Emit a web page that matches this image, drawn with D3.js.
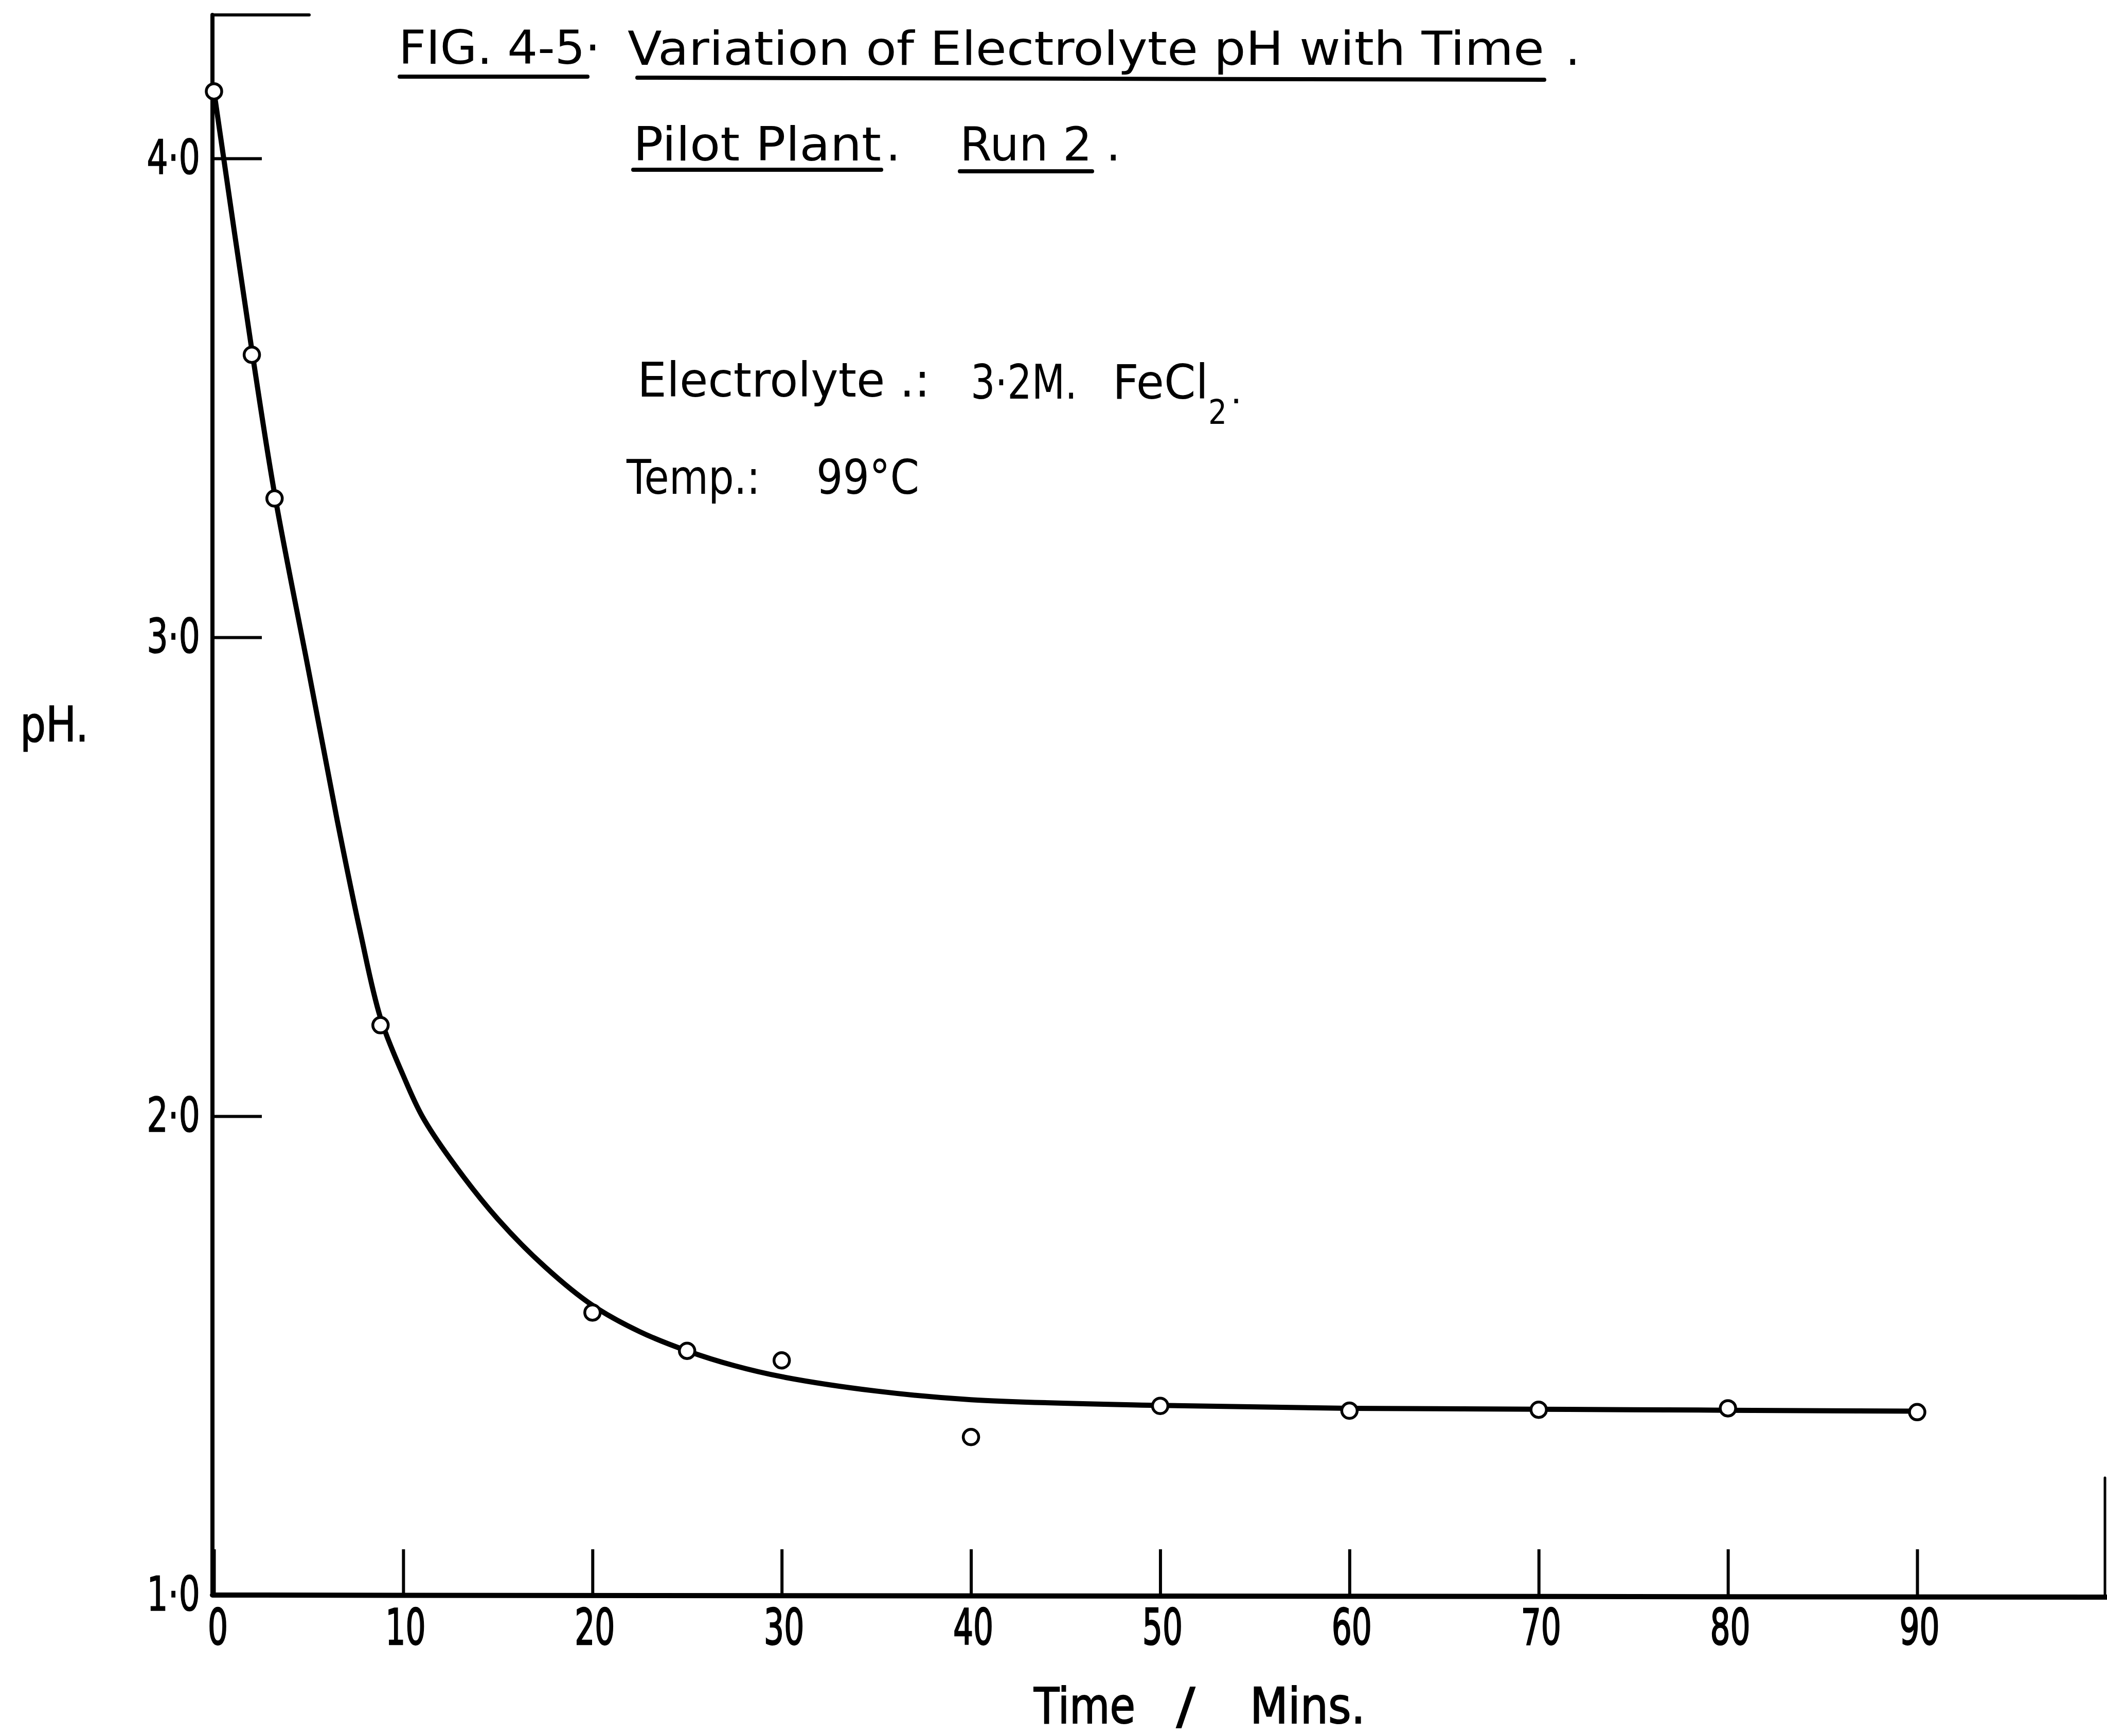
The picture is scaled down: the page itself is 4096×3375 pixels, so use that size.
<!DOCTYPE html>
<meta charset="utf-8">
<style>
body { margin: 0; background: #fff; }
svg { display: block; background: #fff; }
text { font-family: "DejaVu Sans", sans-serif; fill: #000; }
</style>
<body>
<script src="https://d3js.org/d3.v7.min.js"></script>
<script>

// measured points (time in mins, pH)
var times = [0, 2, 3.2, 8.8, 20, 25, 30, 40, 50, 60, 70, 80, 90];
var phValues = [4.14, 3.59, 3.29, 2.19, 1.59, 1.51, 1.49, 1.33, 1.395, 1.385, 1.387, 1.39, 1.382];

// hand-drawn smooth curve
var fitTimes = [0, 2, 3.2, 5, 6.5, 7.7, 8.8, 10, 11, 12.5, 15, 17.5, 20, 22.5, 25, 27.5, 30, 35, 40, 50, 60, 70, 80, 90];
var fitPh = [4.14, 3.60, 3.30, 2.93, 2.62, 2.39, 2.205, 2.085, 2.0, 1.91, 1.785, 1.685, 1.605, 1.55, 1.51, 1.479, 1.456, 1.426, 1.408, 1.396, 1.39, 1.388, 1.386, 1.384];

var xTicks = [0, 10, 20, 30, 40, 50, 60, 70, 80, 90];
var yTicks = [1, 2, 3, 4];
var yTickLabels = ["1·0", "2·0", "3·0", "4·0"];

var width = 4096, height = 3375;

var svg = d3.select("body").append("svg")
    .attr("width", width)
    .attr("height", height);

var x = d3.scaleLinear().domain([0, 90]).range([416, 3727]);
var y = d3.scaleLinear().domain([1, 4]).range([3101, 308]);

var axisX = 413, axisY = y(1);

function label(txt, px, py, size, len, anchor) {
  var t = svg.append("text")
      .attr("x", px)
      .attr("y", py)
      .attr("font-size", size)
      .text(txt);
  if (len) t.attr("textLength", len).attr("lengthAdjust", "spacingAndGlyphs");
  if (anchor) t.attr("text-anchor", anchor);
  return t;
}

function rule(x1, y1, x2, y2, w) {
  svg.append("line")
      .attr("x1", x1).attr("y1", y1)
      .attr("x2", x2).attr("y2", y2)
      .attr("stroke", "#000")
      .attr("stroke-width", w)
      .attr("stroke-linecap", "round");
}

// axes (lettering is narrow, so squeeze the tick labels horizontally)
var sx = 0.64, sy = 0.71;

var gx = svg.append("g")
    .attr("transform", "translate(0," + axisY + ")")
    .call(d3.axisBottom(x).tickValues(xTicks).tickSizeInner(-89).tickSizeOuter(0).tickPadding(28));
gx.select(".domain").remove();
gx.selectAll(".tick line").attr("stroke-width", 6);
gx.selectAll(".tick text")
    .attr("font-family", "DejaVu Sans")
    .attr("font-size", 96)
    .attr("fill", "#000")
    .attr("stroke", "#000")
    .attr("stroke-width", 2.5)
    .attr("x", function(d) { return (d === 0 ? 7 : 4) / sx; })
    .attr("transform", "scale(" + sx + ",1)");

var gy = svg.append("g")
    .attr("transform", "translate(" + axisX + ",0)")
    .call(d3.axisLeft(y).tickValues(yTicks).tickSizeInner(-96).tickSizeOuter(0).tickPadding(22)
      .tickFormat(function(d, i) { return yTickLabels[i]; }));
gy.select(".domain").remove();
gy.selectAll(".tick line").attr("stroke-width", 6);
gy.selectAll(".tick text")
    .attr("font-family", "DejaVu Sans")
    .attr("font-size", 92)
    .attr("fill", "#000")
    .attr("stroke", "#000")
    .attr("stroke-width", 1.5)
    .attr("x", -24 / sy)
    .attr("transform", "scale(" + sy + ",1)");

rule(axisX, 29, axisX, axisY, 8);
rule(axisX, 29, 601, 29, 6);
rule(axisX, axisY, 4096, axisY + 4, 10);
rule(4092, 2873, 4092, axisY + 4, 5);

// fitted curve
var fit = fitTimes.map(function(t, i) { return [t, fitPh[i]]; });
svg.append("path")
    .datum(fit)
    .attr("fill", "none")
    .attr("stroke", "#000")
    .attr("stroke-width", 10)
    .attr("stroke-linejoin", "round")
    .attr("d", d3.line()
      .x(function(d) { return x(d[0]); })
      .y(function(d) { return y(d[1]); })
      .curve(d3.curveCatmullRom.alpha(0.5)));

// data points
svg.selectAll(".dot")
    .data(times.map(function(t, i) { return {t: t, ph: phValues[i]}; }))
  .enter().append("circle")
    .attr("class", "dot")
    .attr("cx", function(d) { return x(d.t); })
    .attr("cy", function(d) { return y(d.ph); })
    .attr("r", 15)
    .attr("fill", "#fff")
    .attr("stroke", "#000")
    .attr("stroke-width", 5.5);

// title block
label("FIG. 4-5·", 775, 124, 90, 392);
rule(777, 149, 1142, 149, 8);
label("Variation of Electrolyte pH with Time", 1220, 126, 90, 1782);
rule(1239, 151, 3002, 155, 8);
label(".", 3043, 126, 90);

label("Pilot Plant", 1231, 312, 90, 482);
label(".", 1722, 312, 90);
rule(1231, 330, 1713, 330, 8);
label("Run 2", 1866, 312, 90, 257);
label(".", 2150, 312, 90);
rule(1866, 333, 2123, 333, 8);

label("Electrolyte .:", 1239, 771, 92, 569);
label("3·2M.", 1887, 775, 92, 207);
label("FeCl", 2163, 775, 92, 186);
label("2", 2349, 824, 66, 36);
label(".", 2392, 784, 70);

label("Temp.:", 1218, 960, 92, 260);
label("99°C", 1587, 960, 92, 200);

// axis titles
label("pH.", 39, 1441, 94, 133).attr("stroke", "#000").attr("stroke-width", 1.5);
label("Time", 2010, 3350, 96, 197).attr("stroke", "#000").attr("stroke-width", 2);
label("/", 2287, 3350, 96, 36).attr("stroke", "#000").attr("stroke-width", 2);
label("Mins.", 2430, 3350, 96, 224).attr("stroke", "#000").attr("stroke-width", 2);

</script>
